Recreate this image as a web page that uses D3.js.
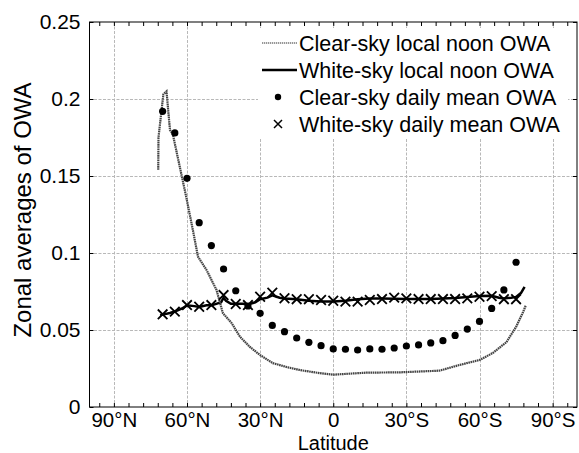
<!DOCTYPE html>
<html><head><meta charset="utf-8">
<script src="https://cdn.jsdelivr.net/npm/d3@7"></script>
<style>body{margin:0;background:#fff}svg{display:block}text{font-family:"Liberation Sans",Arial,sans-serif;fill:#000}</style>
</head><body><svg id="c" width="579" height="453"></svg>
<script>
// Latitude: positive = North, negative = South
const xTickValues = [90, 60, 30, 0, -30, -60, -90];
const xTickLabels = ["90°N", "60°N", "30°N", "0", "30°S", "60°S", "90°S"];
const yTickValues = [0, 0.05, 0.1, 0.15, 0.2, 0.25];
const yTickLabels = ["0", "0.05", "0.1", "0.15", "0.2", "0.25"];

// Clear-sky local noon OWA (dotted line)
const clearNoonLat = [71.8, 71.7, 69.7, 68.4, 67, 65.8, 60.4, 57.6, 55.5, 52, 47.9, 45.3, 41.7, 38.3, 34.2, 30.1, 24.8, 19.2, 13.7, 5.5, 0, -13.6, -27.3, -43.6, -51.8, -60, -65.4, -71, -75, -77.7, -79];
const clearNoonVal = [0.154, 0.175, 0.203, 0.205, 0.180, 0.177, 0.137, 0.115, 0.0976, 0.089, 0.076, 0.061, 0.0545, 0.0457, 0.039, 0.0338, 0.0285, 0.026, 0.024, 0.022, 0.021, 0.0223, 0.0225, 0.0236, 0.0273, 0.0305, 0.035, 0.042, 0.052, 0.061, 0.066];

// White-sky local noon OWA (solid line)
const whiteNoonLat = [71, 70, 67, 65, 62, 60, 57, 55, 52, 50, 48, 46, 45, 44, 42, 40, 37, 35, 32, 30, 27, 25, 22, 20, 15, 10, 5, 0, -5, -10, -15, -20, -30, -40, -50, -55, -60, -65, -68, -70, -73, -75, -77, -78.5];
const whiteNoonVal = [0.0595, 0.060, 0.061, 0.062, 0.064, 0.066, 0.0655, 0.065, 0.066, 0.066, 0.067, 0.068, 0.071, 0.069, 0.067, 0.067, 0.067, 0.0665, 0.068, 0.070, 0.071, 0.0725, 0.071, 0.0705, 0.070, 0.069, 0.0685, 0.0685, 0.069, 0.070, 0.0705, 0.0705, 0.0702, 0.0702, 0.0708, 0.0715, 0.072, 0.0722, 0.071, 0.0705, 0.071, 0.0715, 0.074, 0.078];

// Daily means every 5 degrees
const dailyLat = [70, 65, 60, 55, 50, 45, 40, 35, 30, 25, 20, 15, 10, 5, 0, -5, -10, -15, -20, -25, -30, -35, -40, -45, -50, -55, -60, -65, -70, -75];
const clearDailyVal = [0.192, 0.178, 0.1485, 0.1197, 0.1048, 0.0896, 0.0755, 0.0656, 0.0608, 0.053, 0.0489, 0.0448, 0.042, 0.0398, 0.0377, 0.0375, 0.037, 0.0377, 0.0375, 0.0383, 0.0396, 0.0403, 0.0416, 0.0431, 0.0465, 0.0506, 0.0556, 0.064, 0.076, 0.094];
const whiteDailyVal = [0.0602, 0.0619, 0.0662, 0.0651, 0.0662, 0.0727, 0.0669, 0.0662, 0.0716, 0.0742, 0.0706, 0.070, 0.070, 0.0695, 0.069, 0.0684, 0.0684, 0.0695, 0.0701, 0.071, 0.0705, 0.0701, 0.0701, 0.0701, 0.0701, 0.0705, 0.0716, 0.072, 0.070, 0.070];

const legendLabels = ["Clear-sky local noon OWA", "White-sky local noon OWA", "Clear-sky daily mean OWA", "White-sky daily mean OWA"];

const L = 89.5, R = 577, T = 22, B = 407;
const x = d3.scaleLinear().domain([100, -100]).range([L, R]);
const y = d3.scaleLinear().domain([0, 0.25]).range([B, T]);
const svg = d3.select("#c");
const FF = '"Liberation Sans",Arial,sans-serif';

// grid
const grid = svg.append("g").attr("stroke", "#b8b8b8").attr("stroke-width", 1).attr("stroke-dasharray", "3,1.5");
grid.selectAll(".gx").data(xTickValues).join("line")
  .attr("x1", d => Math.round(x(d)) + 0.5).attr("x2", d => Math.round(x(d)) + 0.5).attr("y1", T).attr("y2", B);
grid.selectAll(".gy").data(yTickValues.slice(1, -1)).join("line")
  .attr("y1", d => Math.round(y(d)) + 0.5).attr("y2", d => Math.round(y(d)) + 0.5).attr("x1", L).attr("x2", R);

// axes
const minorX = d3.range(-96, 97, 6);
const axB = svg.append("g").attr("transform", `translate(0,${B})`)
  .call(d3.axisBottom(x).tickValues(minorX).tickSize(-4).tickFormat(""));
const axT = svg.append("g").attr("transform", `translate(0,${T})`)
  .call(d3.axisTop(x).tickValues(minorX).tickSize(-4).tickFormat(""));
const axL = svg.append("g").attr("transform", `translate(${L},0)`)
  .call(d3.axisLeft(y).tickValues(yTickValues).tickSize(-4).tickPadding(9).tickFormat((d, i) => yTickLabels[i]));
const axR = svg.append("g").attr("transform", `translate(${R},0)`)
  .call(d3.axisRight(y).tickValues(yTickValues).tickSize(-4).tickFormat(""));
[axB, axT, axL, axR].forEach(a => { a.select(".domain").remove(); a.selectAll("line").attr("stroke", "#000"); });
axL.selectAll("text").style("font-size", "21px").style("font-family", FF);
svg.append("rect").attr("x", L).attr("y", T).attr("width", R - L).attr("height", B - T)
  .attr("fill", "none").attr("stroke", "#000").attr("stroke-width", 1);

// x tick labels
const axBL = svg.append("g").attr("transform", `translate(0,${B})`)
  .call(d3.axisBottom(x).tickValues(xTickValues).tickSize(0).tickPadding(5.5).tickFormat((d, i) => xTickLabels[i]));
axBL.select(".domain").remove();
axBL.selectAll("text").style("font-size", "20.5px").style("font-family", FF);

// axis titles
svg.append("text").attr("x", x(0)).attr("y", 449.5).attr("text-anchor", "middle").style("font-size", "20px").text("Latitude");
svg.append("text").attr("transform", `translate(31,210) rotate(-90)`).attr("text-anchor", "middle").style("font-size", "24px").text("Zonal averages of OWA");

// data
const clearNoon = clearNoonLat.map((d, i) => [d, clearNoonVal[i]]);
const whiteNoon = whiteNoonLat.map((d, i) => [d, whiteNoonVal[i]]);
const line = d3.line().x(d => x(d[0])).y(d => y(d[1]));

svg.append("path").datum(whiteNoon).attr("d", line).attr("fill", "none").attr("stroke", "#000").attr("stroke-width", 2.5);
svg.append("path").datum(clearNoon).attr("d", line).attr("fill", "none").attr("stroke", "#444").attr("stroke-width", 2.2).attr("stroke-dasharray", "1.6,0.6");

svg.append("g").selectAll("circle").data(dailyLat).join("circle")
  .attr("cx", d => x(d)).attr("cy", (d, i) => y(clearDailyVal[i])).attr("r", 3.6).attr("fill", "#000");

const xm = 4.8;
function cross(g, cx, cy, s, w) {
  g.append("path").attr("d", `M${cx - s},${cy - s}L${cx + s},${cy + s}M${cx - s},${cy + s}L${cx + s},${cy - s}`)
    .attr("stroke", "#000").attr("stroke-width", w).attr("fill", "none");
}
const xg = svg.append("g");
dailyLat.forEach((d, i) => cross(xg, x(d), y(whiteDailyVal[i]), xm, 1.8));

// legend
const lg = svg.append("g");
const rowY = [43, 70, 97, 124];
const lx0 = 262, lx1 = 297, tx = 299;
lg.append("rect").attr("x", 258).attr("y", 28).attr("width", 310).attr("height", 110).attr("fill", "#fff");
lg.append("line").attr("x1", lx0).attr("x2", lx1).attr("y1", rowY[0]).attr("y2", rowY[0]).attr("stroke", "#777").attr("stroke-width", 1.5).attr("stroke-dasharray", "1.3,0.7");
lg.append("line").attr("x1", lx0).attr("x2", lx1).attr("y1", rowY[1]).attr("y2", rowY[1]).attr("stroke", "#000").attr("stroke-width", 2.5);
lg.append("circle").attr("cx", 278).attr("cy", rowY[2]).attr("r", 3.2).attr("fill", "#000");
cross(lg, 278, rowY[3], 4, 1.5);
lg.selectAll("text").data(legendLabels).join("text")
  .attr("x", tx).attr("y", (d, i) => rowY[i] + 7.5).style("font-size", "21.5px").text(d => d);
</script></body></html>
